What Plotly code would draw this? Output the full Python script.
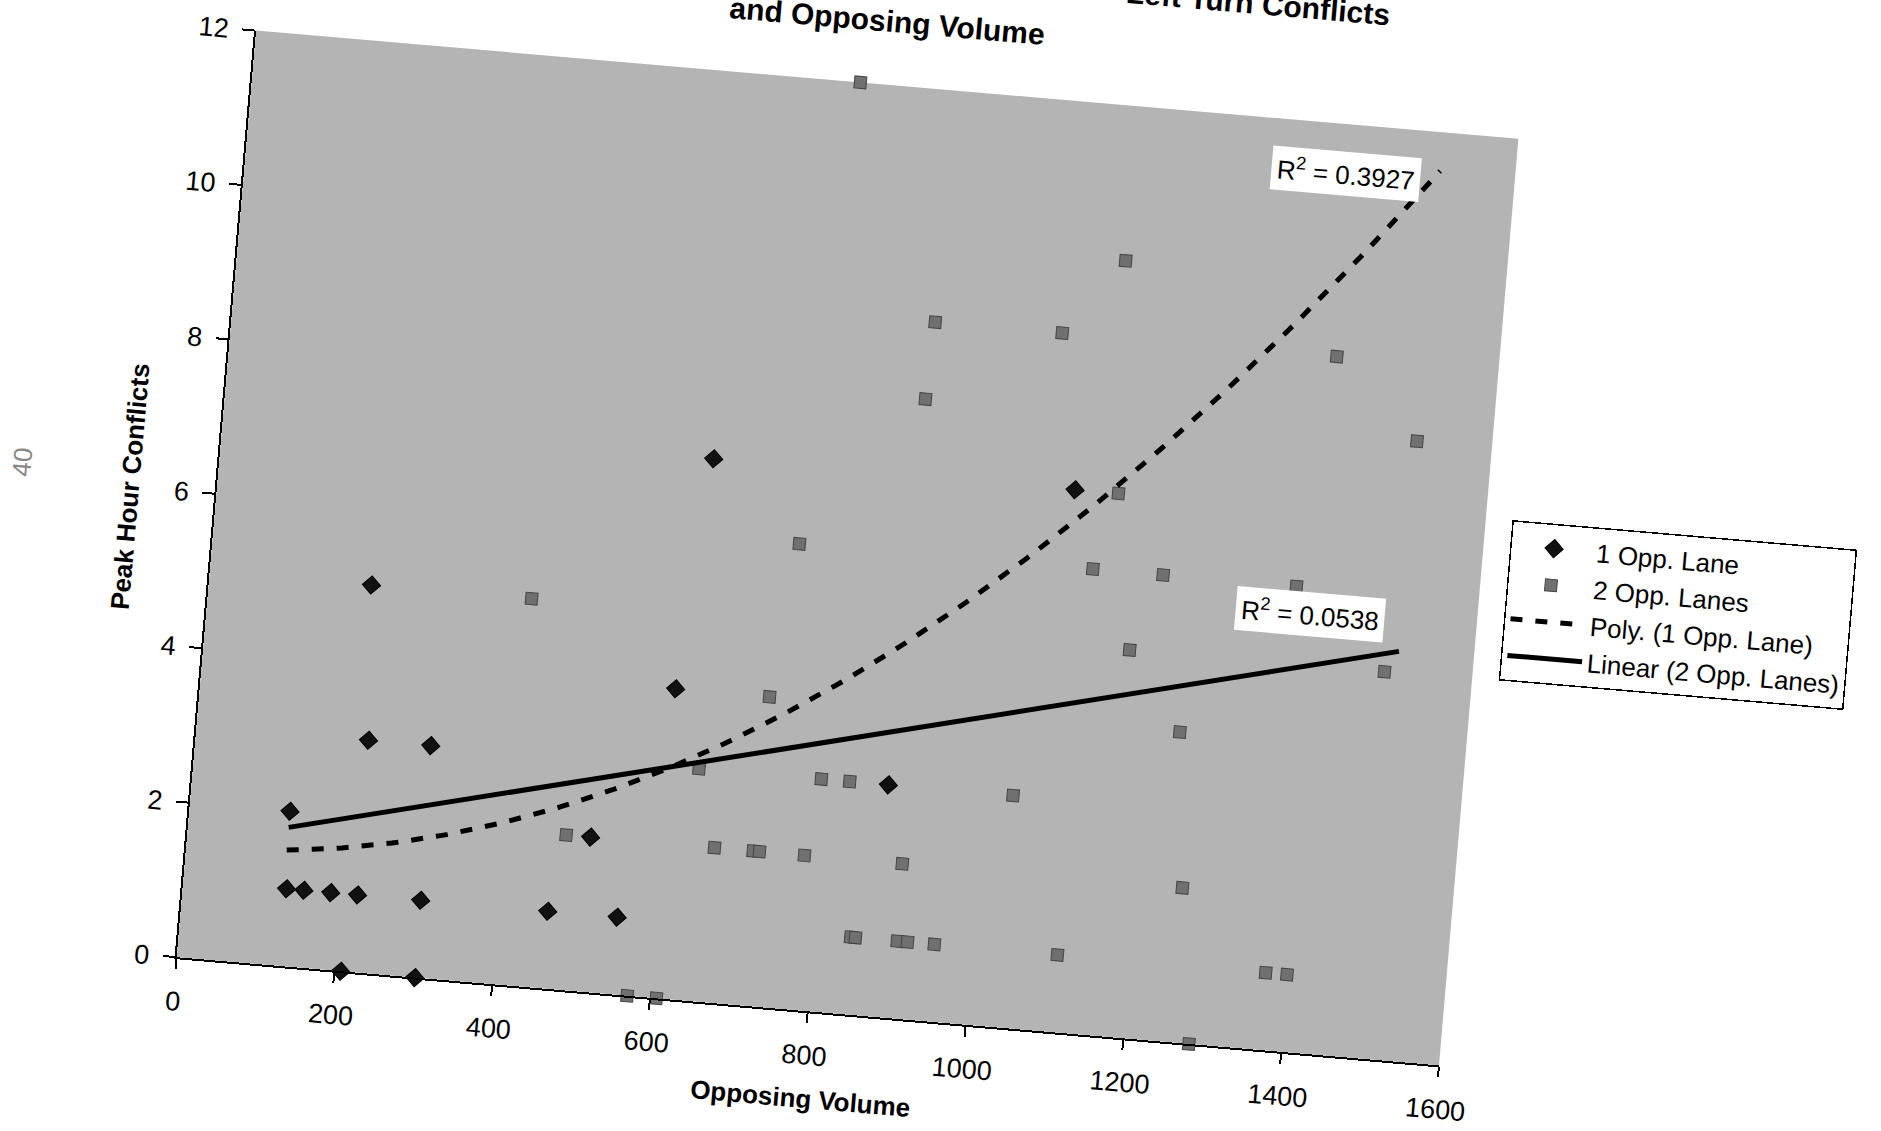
import numpy as np
import plotly.graph_objects as go

# ---- data ----
one_lane_volume = [127, 131, 153, 187, 205, 208, 218, 221, 297, 301, 302,
                   462, 508, 550, 599, 622, 877, 1080]
one_lane_conflicts = [2, 1, 1, 1, 5, 0, 3, 1, 3, 1, 0,
                      1, 2, 1, 4, 7, 3, 7]

two_lane_volume = [408, 477, 571, 608, 637, 665, 714, 722, 718, 739, 766, 779,
                   792, 828, 846, 852, 882, 886, 903, 905, 918, 952, 1035, 1047,
                   1108, 1111, 1119, 1135, 1166, 1200, 1238, 1258, 1283, 1369,
                   1372, 1395, 1399, 1489, 1505]
two_lane_conflicts = [5, 2, 0, 0, 3, 2, 2, 2, 4, 6, 12, 2,
                      3, 3, 1, 1, 8, 9, 2, 1, 1, 1, 3, 9,
                      1, 6, 10, 7, 5, 6, 4, 2, 0, 6,
                      1, 9, 1, 5, 8]

x_ticks = [0, 200, 400, 600, 800, 1000, 1200, 1400, 1600]
y_ticks = [0, 2, 4, 6, 8, 10, 12]

series_names = ["1 Opp. Lane", "2 Opp. Lanes", "Poly. (1 Opp. Lane)", "Linear (2 Opp. Lanes)"]
r2_labels = ["R<sup>2</sup> = 0.3927", "R<sup>2</sup> = 0.0538"]
title_line1 = "Left Turn Conflicts"
title_line2 = "and Opposing Volume"
x_title = "Opposing Volume"
y_title = "Peak Hour Conflicts"
page_number = "40"

# ---- trendlines fitted from the data ----
all_x = one_lane_volume + two_lane_volume
tx = np.linspace(min(all_x), max(all_x), 200)
poly = np.polyfit(one_lane_volume, one_lane_conflicts, 2)
lin = np.polyfit(two_lane_volume, two_lane_conflicts, 1)

FONT = "Liberation Sans, Arial, Helvetica, sans-serif"

fig = go.Figure()
fig.add_trace(go.Scatter(
    x=one_lane_volume, y=one_lane_conflicts, mode="markers", name=series_names[0],
    marker=dict(symbol="diamond", size=14, color="#111111",
                line=dict(color="#000000", width=1)),
    cliponaxis=False))
fig.add_trace(go.Scatter(
    x=two_lane_volume, y=two_lane_conflicts, mode="markers", name=series_names[1],
    marker=dict(symbol="square", size=12, color="#707070",
                line=dict(color="#444444", width=1)),
    cliponaxis=False))
fig.add_trace(go.Scatter(
    x=tx, y=np.polyval(poly, tx), mode="lines", name=series_names[2],
    line=dict(color="#000000", width=5, dash="12px,13px")))
fig.add_trace(go.Scatter(
    x=tx, y=np.polyval(lin, tx), mode="lines", name=series_names[3],
    line=dict(color="#000000", width=5)))

W, H = 1881, 1231
L, R, T, B = 214, 400, 183, 118

fig.update_layout(
    width=W, height=H,
    margin=dict(l=L, r=R, t=T, b=B, pad=0),
    paper_bgcolor="white",
    plot_bgcolor="#b4b4b4",
    font=dict(family=FONT, color="#000000", size=24),
    showlegend=True,
    legend=dict(x=1.021, y=0.591, xanchor="left", yanchor="top",
                bgcolor="white", bordercolor="#000000", borderwidth=1.5,
                font=dict(size=26, family=FONT), tracegroupgap=0,
                itemwidth=75),
    xaxis=dict(range=[0, 1600], tickvals=x_ticks, showgrid=False, zeroline=False,
               showline=True, linecolor="#000000", linewidth=2,
               ticks="outside", ticklen=10, tickwidth=2, tickcolor="#000000",
               tickfont=dict(size=27), ticklabelstandoff=9,
               title=dict(text=x_title, font=dict(size=26, weight="bold"), standoff=20)),
    yaxis=dict(range=[0, 12], tickvals=y_ticks, showgrid=False, zeroline=False,
               showline=True, linecolor="#000000", linewidth=2,
               ticks="outside", ticklen=12, tickwidth=2, tickcolor="#000000",
               tickfont=dict(size=27), ticklabelstandoff=8,
               title=dict(text=y_title, font=dict(size=26, weight="bold"), standoff=12)),
    annotations=[
        dict(x=1387, y=11.36, xref="x", yref="y", text=r2_labels[0], showarrow=False,
             bgcolor="white", borderpad=5, font=dict(size=26)),
        dict(x=1389, y=5.66, xref="x", yref="y", text=r2_labels[1], showarrow=False,
             bgcolor="white", borderpad=5, font=dict(size=26)),
        dict(x=0.496, y=1.068, xref="paper", yref="paper", text=title_line2,
             showarrow=False, xanchor="center", yanchor="middle",
             font=dict(size=30, weight="bold")),
        dict(x=0.892, y=1.121, xref="paper", yref="paper", text=title_line1,
             showarrow=False, xanchor="right", yanchor="middle",
             font=dict(size=30, weight="bold")),
        dict(x=-0.168, y=0.516, xref="paper", yref="paper", text=page_number,
             showarrow=False, textangle=-90, font=dict(size=26, color="#888888")),
    ],
)

post = """
var gd = document.getElementById('{plot_id}');
document.documentElement.style.margin='0';
document.documentElement.style.overflow='hidden';
document.body.style.margin='0';
document.body.style.overflow='hidden';
document.body.style.background='white';
gd.style.position='absolute';
gd.style.left='0px';
gd.style.top='-100px';
gd.style.transformOrigin='847.5px 648px';
gd.style.transform='rotate(4.9deg)';
"""

fig.write_html("out.html", post_script=post, config={"displayModeBar": False})
